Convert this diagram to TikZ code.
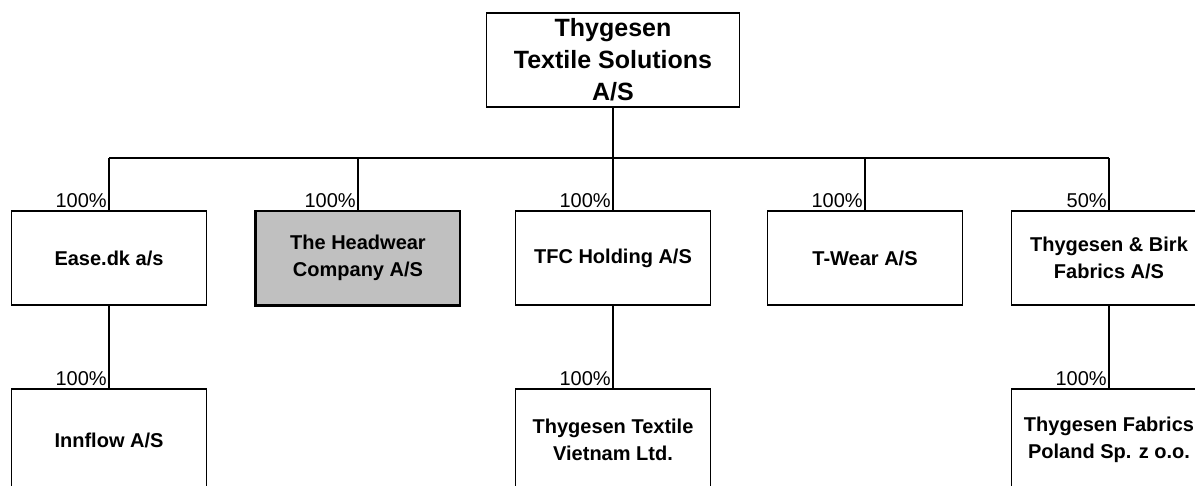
\documentclass[tikz,border=0pt]{standalone}
\usepackage{fontspec}
\setmainfont{Liberation Sans}
\usepackage{tikz}

\tikzset{
  company/.style={draw, line width=1.5pt, align=center, minimum width=195, minimum height=94,
    font=\fontsize{20}{26.5}\selectfont\bfseries},
  pct/.style={anchor=south east, inner sep=1.5pt, font=\fontsize{20}{22}\selectfont}
}

\begin{document}
\begin{tikzpicture}[x=1pt, y=-1pt, line width=1.5pt]
        \useasboundingbox (0,0) rectangle (1195,486);

        \node[company, minimum width=253, font=\fontsize{25}{32}\selectfont\bfseries] (tts) at (613,60) {Thygesen\\Textile Solutions\\A/S};

        \node[company] (ease) at (109,258) {Ease.dk a/s};
        \node[company, fill={rgb,255:red,192;green,192;blue,192}, minimum width=204] (hw) at (358,258) {The Headwear\\Company A/S};
        \node[company] (tfc) at (613,258) {TFC Holding A/S};
        \node[company] (twear) at (865,258) {T-Wear A/S};
        \node[company] (birk) at (1109,258) {Thygesen \& Birk\\Fabrics A/S};

        \node[company, minimum height=102] (innflow) at (109,440) {Innflow A/S};
        \node[company, minimum height=102] (vietnam) at (613,440) {Thygesen Textile\\Vietnam Ltd.};
        \node[company, minimum height=102] (poland) at (1109,440) {Thygesen Fabrics\\Poland Sp. z o.o.};

        \draw[line width=3pt] (hw.north west) -- (hw.south west) -- (hw.south east);

        % bus line under the parent
        \coordinate (bus) at (0,158);
        \draw (tts.south) -- (tts.south |- bus);
        \draw (ease.north |- bus) -- (birk.north |- bus);

        \foreach \c/\p in {ease/100, hw/100, tfc/100, twear/100, birk/50}
            \draw (\c.north |- bus) -- (\c.north) node[pct] (p-\c) {\p\%};

        \foreach \a/\b in {ease/innflow, tfc/vietnam, birk/poland}
            \draw (\a.south) -- (\b.north) node[pct] (p-\b) {100\%};
    \end{tikzpicture}
\end{document}
